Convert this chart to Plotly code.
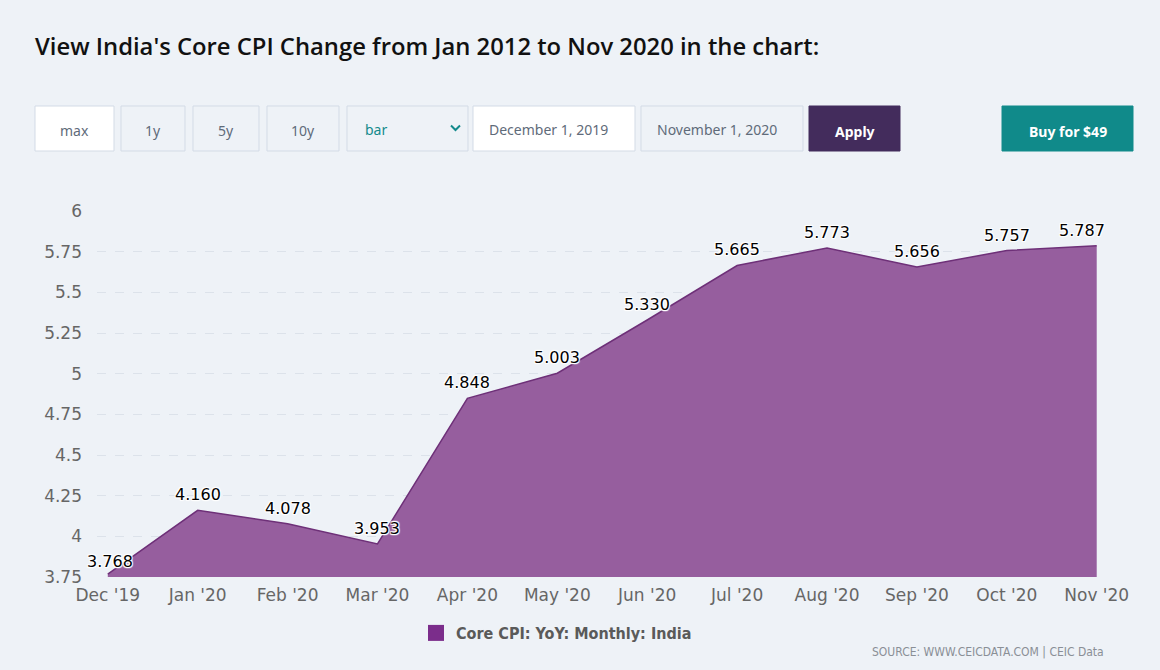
import plotly.graph_objects as go

# ---- data ----
months = ["Dec '19", "Jan '20", "Feb '20", "Mar '20", "Apr '20", "May '20",
          "Jun '20", "Jul '20", "Aug '20", "Sep '20", "Oct '20", "Nov '20"]
core_cpi = [3.768, 4.160, 4.078, 3.953, 4.848, 5.003,
            5.330, 5.665, 5.773, 5.656, 5.757, 5.787]
y_ticks = [3.75, 4, 4.25, 4.5, 4.75, 5, 5.25, 5.5, 5.75, 6]
y_tick_labels = ["3.75", "4", "4.25", "4.5", "4.75", "5", "5.25", "5.5", "5.75", "6"]
series_name = "Core CPI: YoY: Monthly: India"

W, H = 1160, 670
L, R, T, B = 97, 1103, 211, 577
BG = "#eef2f7"

def px(x):
    return (x - L) / (R - L)

def py(y):
    return (B - y) / (B - T)

fig = go.Figure()
fig.add_trace(go.Scatter(
    x=list(range(len(months))), y=core_cpi,
    mode="lines",
    fill="tozeroy",
    fillcolor="#965e9e",
    line=dict(color="#6e3078", width=1.5),
    name=series_name,
    showlegend=False,
    hoverinfo="skip",
))
# legend entry (square marker like the original legend)
fig.add_trace(go.Scatter(
    x=[None], y=[None], mode="markers",
    marker=dict(symbol="square", size=16, color="#7b2d8b"),
    name=series_name, showlegend=True,
))

shapes = []
annos = []

OUTLINE = ("1px 1px 1px #ffffff, -1px -1px 1px #ffffff, 1px -1px 1px #ffffff, "
           "-1px 1px 1px #ffffff, 0px 1px 1px #ffffff, 0px -1px 1px #ffffff")
n = len(core_cpi)
for i, v in enumerate(core_cpi):
    a = dict(x=i, y=v, xref="x", yref="y", text=f"{v:.3f}", showarrow=False,
             yanchor="bottom", xanchor="center", yshift=4,
             font=dict(family="DejaVu Sans", size=16, color="#000000", shadow=OUTLINE))
    if i == 0:
        a["xshift"] = 2
        a["yshift"] = 1
    if i == n - 1:
        a["xanchor"] = "right"
        a["xshift"] = 10
    annos.append(a)

def box(x0, y0, x1, y1, fill, line="#d3dbe6"):
    shapes.append(dict(type="rect", xref="paper", yref="paper",
                       x0=px(x0), x1=px(x1), y0=py(y1), y1=py(y0),
                       fillcolor=fill, line=dict(color=line, width=1), layer="above"))

def label(x, y, text, size=14, color="#5f6b7a", anchor="center", bold=False,
          family="Noto Sans", weight=None):
    f = dict(size=size, color=color, family=family)
    if weight:
        f["weight"] = weight
    annos.append(dict(xref="paper", yref="paper", x=px(x), y=py(y),
                      text=f"<b>{text}</b>" if bold else text,
                      showarrow=False, xanchor=anchor, yanchor="middle", font=f))

# title
label(33, 46, "View India's Core CPI Change from Jan 2012 to Nov 2020 in the chart:",
      size=23.8, color="#111111", anchor="left", family="Open Sans", weight=600)

# controls
box(35, 106, 114, 151, "#ffffff")
label(74, 130, "max")
box(121, 106, 185, 151, BG)
label(153, 130, "1y")
box(193, 106, 259, 151, BG)
label(226, 130, "5y")
box(267, 106, 339, 151, BG)
label(303, 130, "10y")
box(347, 106, 468, 151, BG)
label(363, 129, "bar", color="#138a8c", anchor="left")
shapes.append(dict(type="path", xref="paper", yref="paper",
                   path=f"M {px(451)} {py(125.5)} L {px(455.5)} {py(130)} L {px(460)} {py(125.5)}",
                   line=dict(color="#138a8c", width=2), layer="above"))
box(473, 106, 635, 151, "#ffffff")
label(487, 129, "December 1, 2019", anchor="left")
box(641, 106, 803, 151, BG)
label(655, 129, "November 1, 2020", anchor="left")
box(809, 106, 900, 151, "#432c5c", line="#432c5c")
label(855, 131, "Apply", color="#ffffff", bold=True)
box(1002, 106, 1133, 151, "#108a8a", line="#108a8a")
label(1068, 131, "Buy for $49", color="#ffffff", bold=True)

# source
label(1106, 652, "SOURCE: WWW.CEICDATA.COM | CEIC Data", size=12, color="#8a8f96",
      anchor="right", family="Liberation Sans Narrow, DejaVu Sans Condensed, Roboto")

fig.update_layout(
    width=W, height=H,
    margin=dict(l=L, r=W - R, t=T, b=H - B, pad=0),
    paper_bgcolor=BG, plot_bgcolor=BG,
    shapes=shapes, annotations=annos,
    font=dict(family="DejaVu Sans", color="#666666"),
    xaxis=dict(range=[-0.12, 11.07], tickmode="array",
               tickvals=list(range(len(months))), ticktext=months,
               showgrid=False, zeroline=False, showline=False,
               tickfont=dict(size=17, color="#666666", family="DejaVu Sans"),
               ticks="", ticklabelstandoff=6, fixedrange=True),
    yaxis=dict(range=[3.75, 6], tickmode="array", tickvals=y_ticks, ticktext=y_tick_labels,
               showgrid=True, gridcolor="#dce2ea", griddash="dash", gridwidth=1,
               zeroline=False, showline=False,
               tickfont=dict(size=17, color="#666666", family="DejaVu Sans"),
               ticks="", ticklabelstandoff=14),
    legend=dict(orientation="h", x=px(416), y=py(633), xanchor="left", yanchor="middle",
                bgcolor="rgba(0,0,0,0)", itemsizing="trace",
                font=dict(size=16, color="#5a5a5a", weight="bold",
                          family="Liberation Sans Narrow, DejaVu Sans Condensed, Roboto")),
    showlegend=True,
)

fig.write_html("out.html",
               config={"displayModeBar": False},
               post_script="document.body.style.margin='0';"
                           "document.body.style.background='#eef2f7';")
